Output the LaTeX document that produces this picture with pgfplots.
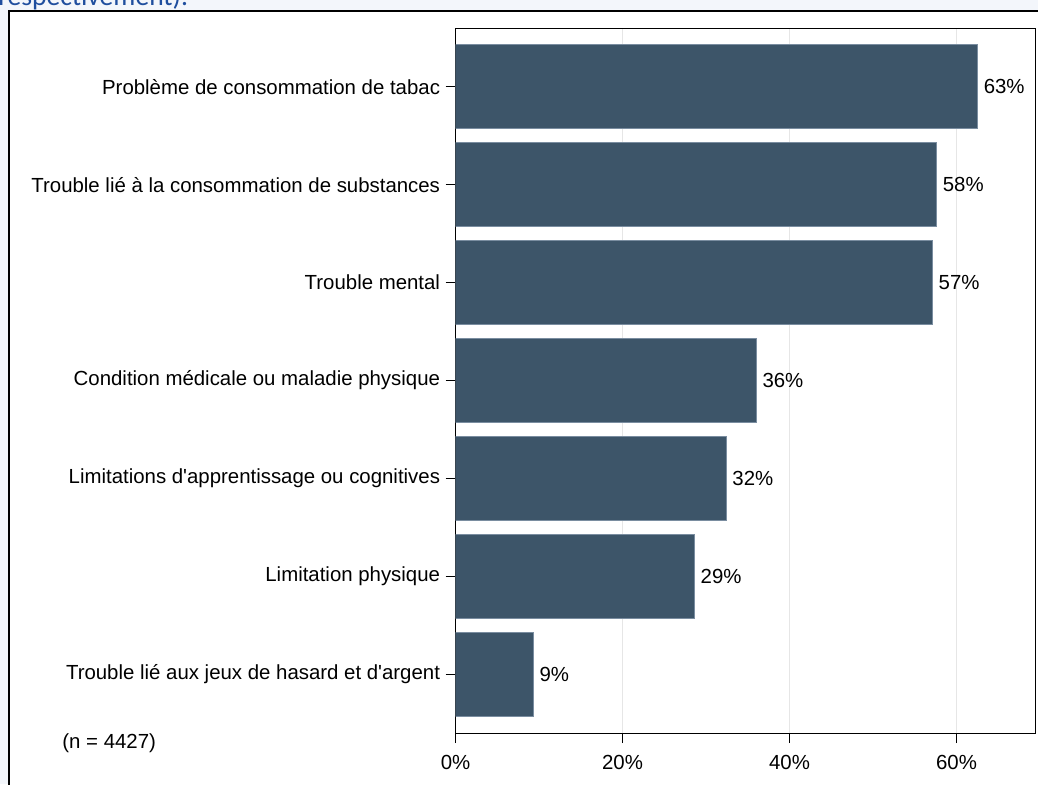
\documentclass[border=0pt]{standalone}
\usepackage{fontspec}
\setmainfont{Liberation Sans}
\newfontfamily\calibri{Carlito}
\usepackage{pgfplots}
\usepackage{pgfplotstable}
\pgfplotsset{compat=1.18}
\definecolor{barc}{HTML}{3D5569}
\definecolor{baredge}{HTML}{7A8DA0}
\definecolor{bg}{HTML}{F3F6FB}
\definecolor{titleblue}{HTML}{1F4E9E}
\definecolor{gridc}{HTML}{E6E6E6}
\pgfplotstableread{
y v lab
0 62.5 63
1 57.6 58
2 57.1 57
3 36.0 36
4 32.4 32
5 28.6 29
6 9.3 9
}\bars
\begin{document}
\begin{tikzpicture}[x=1pt,y=1pt]
\useasboundingbox (0,0) rectangle (519,-392);
\fill[bg] (0,0) rectangle (519,-392);
\node[anchor=base west, inner sep=0pt, text=titleblue, font=\calibri\fontsize{13.8}{16}\selectfont] at (-1,-2.6) {respectivement).};
\draw[line width=0.9pt, fill=white] (4.6,-5.3) rectangle (540,-410);
\begin{axis}[
  at={(227.75pt,-366.5pt)}, anchor=south west,
  scale only axis, width=289.75pt, height=352.5pt,
  xbar, bar width=0.857,
  xmin=0, xmax=69.4, ymin=-0.6, ymax=6.6, y dir=reverse,
  ytick={0,...,6},
  yticklabels={Problème de consommation de tabac,Trouble lié à la consommation de substances,Trouble mental,Condition médicale ou maladie physique,Limitations d\textquotesingle apprentissage ou cognitives,Limitation physique,Trouble lié aux jeux de hasard et d\textquotesingle argent},
  xtick={0,20,40,60}, xticklabels={0\%,20\%,40\%,60\%},
  xmajorgrids, major grid style={color=gridc, line width=0.6pt},
  tick align=outside, xtick pos=bottom, ytick pos=left, major tick length=5pt,
  axis line style={line width=0.5pt}, tick style={black, line width=0.5pt},
  ticklabel style={font=\fontsize{10.2}{12}\selectfont},
  yticklabel style={xshift=0.8pt},
  xticklabel style={yshift=-2.5pt},
  nodes near coords={\pgfplotspointmeta\%}, point meta=explicit symbolic,
  nodes near coords style={anchor=west, inner sep=0pt, xshift=3pt, font=\fontsize{10.2}{12}\selectfont},
]
\addplot[fill=barc, draw=baredge, line width=0.4pt] table[x=v, y=y, meta=lab] {\bars};
\end{axis}
\node[anchor=west, inner sep=0pt, font=\fontsize{10.2}{12}\selectfont] at (31,-371.5) {(n = 4427)};
\end{tikzpicture}
\end{document}
